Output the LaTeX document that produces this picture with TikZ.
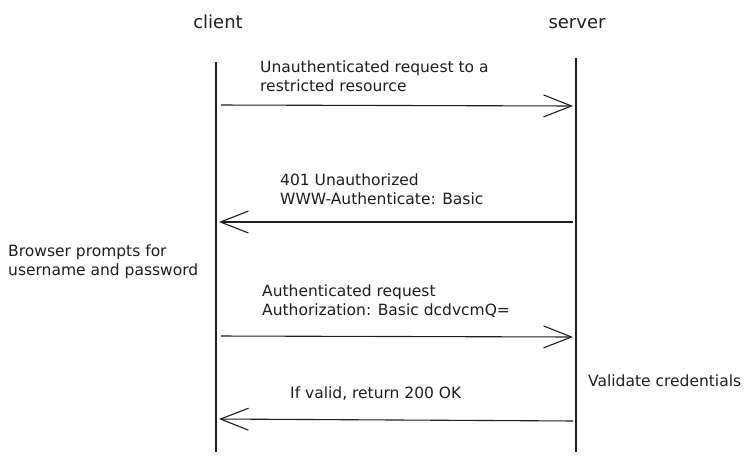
\documentclass[tikz,border=0pt]{standalone}
\usepackage{fontspec}
\setmainfont{DejaVu Sans}
\usetikzlibrary{arrows.meta}
\definecolor{ink}{HTML}{1E1E1E}
\tikzset{
  lifeline/.style={draw=ink, line width=1.3pt},
  msg/.style={draw=ink, line width=1.1pt, -{Straight Barb[length=28pt,width=22pt,line width=1.1pt]}, shorten >=3pt, shorten <=5pt},
  lbl/.style={anchor=north west, inner sep=0pt, align=left, text=ink, font=\fontsize{15.5}{18.5}\selectfont},
  title/.style={inner sep=0pt, text=ink, font=\fontsize{18}{20}\selectfont}
}
\begin{document}
\begin{tikzpicture}[x=1pt,y=-1pt]
\useasboundingbox (0,0) rectangle (755,464);
\fill[white] (0,0) rectangle (755,464);
% titles
\node[title] (client) at (218,22) {client};
\node[title] (server) at (577,24) {server};
% lifelines
\coordinate (ct) at (216,62);
\coordinate (cb) at (216,452);
\coordinate (st) at (576,58);
\coordinate (sb) at (576,452);
\draw[lifeline] (ct) -- (cb);
\draw[lifeline] (st) -- (sb);
% message anchors
\coordinate (c1) at (216,105); \coordinate (s1) at (576,106);
\coordinate (c2) at (216,222); \coordinate (s2) at (576,222);
\coordinate (c3) at (216,336); \coordinate (s3) at (576,337);
\coordinate (c4) at (216,419); \coordinate (s4) at (576,421);
\draw[msg] (c1) -- (s1);
\draw[msg, shorten <=3pt, shorten >=3pt] (s2) -- (c2);
\draw[msg] (c3) -- (s3);
\draw[msg, shorten <=3pt, shorten >=3pt] (s4) -- (c4);
% labels
\node[lbl] (l1) at (260,61) {Unauthenticated request to a\\restricted resource};
\node[lbl] (l2) at (280,174) {401 Unauthorized\\WWW-Authenticate: Basic};
\node[lbl] (l3) at (8,245) {Browser prompts for\\username and password};
\node[lbl] (l4) at (262,285) {Authenticated request\\Authorization: Basic dcdvcmQ=};
\node[lbl] (l5) at (588,375) {Validate credentials};
\node[lbl] (l6) at (290,387) {If valid, return 200 OK};
\end{tikzpicture}
\end{document}
